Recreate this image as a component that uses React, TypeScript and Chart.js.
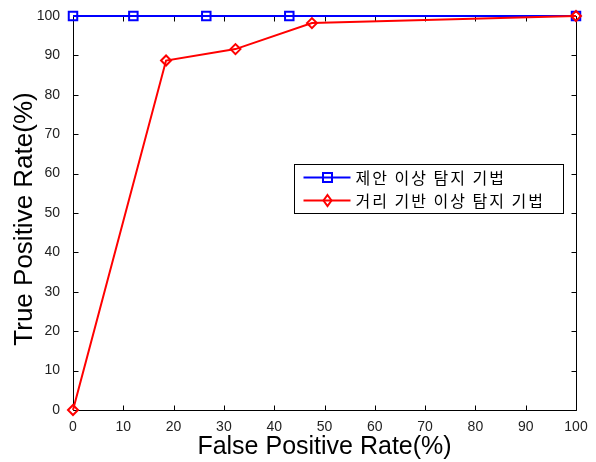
import React, { useEffect, useRef } from 'react';
import { Chart, registerables } from 'chart.js';

Chart.register(...registerables);

const proposedX = [0, 12, 26.5, 43, 100];
const proposedY = [100, 100, 100, 100, 100];
const distanceX = [0, 18.5, 32.3, 47.5, 100];
const distanceY = [0, 88.7, 91.6, 98.2, 100];
const xTicks = [0, 10, 20, 30, 40, 50, 60, 70, 80, 90, 100];
const yTicks = [0, 10, 20, 30, 40, 50, 60, 70, 80, 90, 100];
const seriesLabels = ['제안 이상 탐지 기법', '거리 기반 이상 탐지 기법'];
const seriesColors = ['#0000ff', '#ff0000'];
const xTitle = 'False Positive Rate(%)';
const yTitle = 'True Positive Rate(%)';

function drawMarker(ctx: CanvasRenderingContext2D, kind: string, x: number, y: number, color: string) {
  ctx.save();
  ctx.strokeStyle = color;
  ctx.lineWidth = 2;
  ctx.beginPath();
  if (kind === 'rect') {
    ctx.rect(x - 4.5, y - 4.5, 9, 9);
  } else {
    ctx.moveTo(x, y - 5.5);
    ctx.lineTo(x + 4, y);
    ctx.lineTo(x, y + 5.5);
    ctx.lineTo(x - 4, y);
    ctx.closePath();
  }
  ctx.stroke();
  ctx.restore();
}

const boxPlugin = {
  id: 'matlabBox',
  beforeDatasetsDraw(chart: any) {
    const { ctx, chartArea } = chart;
    const { left, right, top, bottom } = chartArea;
    const xs = chart.scales.x;
    const ys = chart.scales.y;
    ctx.save();
    ctx.strokeStyle = '#000';
    ctx.lineWidth = 1;
    ctx.beginPath();
    const L = Math.round(left) + 0.5;
    const R = Math.round(right) + 0.5;
    const T = Math.round(top) + 0.5;
    const B = Math.round(bottom) + 0.5;
    ctx.rect(L, T, R - L, B - T);
    const tl = 5;
    xTicks.forEach((v) => {
      const px = Math.round(xs.getPixelForValue(v)) + 0.5;
      ctx.moveTo(px, B);
      ctx.lineTo(px, B - tl);
      ctx.moveTo(px, T);
      ctx.lineTo(px, T + tl);
    });
    yTicks.forEach((v) => {
      const py = Math.round(ys.getPixelForValue(v)) + 0.5;
      ctx.moveTo(L, py);
      ctx.lineTo(L + tl, py);
      ctx.moveTo(R, py);
      ctx.lineTo(R - tl, py);
    });
    ctx.stroke();
    ctx.restore();

    // y-axis title (MATLAB places it slightly below the axis centre)
    ctx.save();
    ctx.translate(25, (top + bottom) / 2 + 6);
    ctx.rotate(-Math.PI / 2);
    ctx.font = '26px "Liberation Sans", Arial';
    ctx.fillStyle = '#000';
    ctx.textAlign = 'center';
    ctx.textBaseline = 'middle';
    ctx.fillText(yTitle, 0, 0);
    ctx.restore();
  },
};

const legendPlugin = {
  id: 'matlabLegend',
  afterDraw(chart: any) {
    const { ctx, chartArea } = chart;
    const bx = Math.round(chartArea.left + 221) + 0.5;
    const by = Math.round(chartArea.top + 148) + 0.5;
    const bw = 269;
    const bh = 49;
    ctx.save();
    ctx.fillStyle = '#fff';
    ctx.fillRect(bx, by, bw, bh);
    ctx.strokeStyle = '#000';
    ctx.lineWidth = 1;
    ctx.strokeRect(bx, by, bw, bh);
    ctx.font = '16px "Noto Sans CJK KR"';
    (ctx as any).letterSpacing = '2px';
    ctx.textBaseline = 'middle';
    ctx.textAlign = 'left';
    const kinds = ['rect', 'diamond'];
    chart.data.datasets.forEach((ds: any) => {
      const idx = ds.legendIndex;
      const rowY = by + 13 + idx * 23;
      const color = ds.borderColor;
      ctx.strokeStyle = color;
      ctx.lineWidth = 2;
      ctx.beginPath();
      ctx.moveTo(bx + 9, rowY);
      ctx.lineTo(bx + 56, rowY);
      ctx.stroke();
      drawMarker(ctx, kinds[idx], bx + 33, rowY, color);
      ctx.fillStyle = '#000';
      ctx.fillText(ds.label, bx + 61, rowY);
    });
    ctx.restore();
  },
};

export default function App() {
  const ref = useRef<HTMLCanvasElement>(null);
  useEffect(() => {
    if (!ref.current) return;
    const chart = new Chart(ref.current, {
      type: 'scatter',
      data: {
        datasets: [
          {
            label: seriesLabels[0],
            legendIndex: 0,
            data: proposedX.map((x, i) => ({ x, y: proposedY[i] })),
            showLine: true,
            borderColor: seriesColors[0],
            backgroundColor: 'rgba(0,0,0,0)',
            borderWidth: 2,
            pointStyle: 'rect',
            pointRadius: 6,
            pointBorderWidth: 2,
            pointBorderColor: seriesColors[0],
            pointBackgroundColor: 'rgba(0,0,0,0)',
            clip: false,
            order: 1,
          } as any,
          {
            label: seriesLabels[1],
            legendIndex: 1,
            data: distanceX.map((x, i) => ({ x, y: distanceY[i] })),
            showLine: true,
            borderColor: seriesColors[1],
            backgroundColor: 'rgba(0,0,0,0)',
            borderWidth: 2,
            pointStyle: 'rectRot',
            pointRadius: 5,
            pointBorderWidth: 2,
            pointBorderColor: seriesColors[1],
            pointBackgroundColor: 'rgba(0,0,0,0)',
            clip: false,
            order: 0,
          } as any,
        ],
      },
      options: {
        responsive: false,
        animation: false,
        devicePixelRatio: 1,
        layout: { padding: { left: 0, right: 20, top: 16, bottom: 0 } },
        plugins: {
          legend: { display: false },
          tooltip: { enabled: false },
        },
        scales: {
          x: {
            type: 'linear',
            min: 0,
            max: 100,
            grid: { display: false },
            border: { display: false },
            afterBuildTicks: (s: any) => {
              s.ticks = xTicks.map((v) => ({ value: v }));
            },
            afterFit: (s: any) => {
              s.height = 52;
            },
            ticks: {
              padding: 1,
              color: '#222',
              font: { family: '"Liberation Sans", Arial', size: 14 },
              maxRotation: 0,
              autoSkip: false,
            },
            title: {
              display: true,
              text: xTitle,
              color: '#000',
              font: { family: '"Liberation Sans", Arial', size: 25 },
              padding: { top: 0, bottom: 0 },
            },
          },
          y: {
            type: 'linear',
            min: 0,
            max: 100,
            grid: { display: false },
            border: { display: false },
            afterBuildTicks: (s: any) => {
              s.ticks = yTicks.map((v) => ({ value: v }));
            },
            afterFit: (s: any) => {
              s.width = 73;
            },
            ticks: {
              padding: 5,
              color: '#222',
              font: { family: '"Liberation Sans", Arial', size: 14 },
              autoSkip: false,
            },
            title: { display: false },
          },
        },
      },
      plugins: [boxPlugin, legendPlugin],
    });
    return () => chart.destroy();
  }, []);
  return (
    <div style={{ position: 'fixed', left: 0, top: 0, width: 596, height: 462, background: '#fff' }}>
      <canvas ref={ref} width={596} height={462} style={{ width: 596, height: 462, display: 'block' }} />
    </div>
  );
}
